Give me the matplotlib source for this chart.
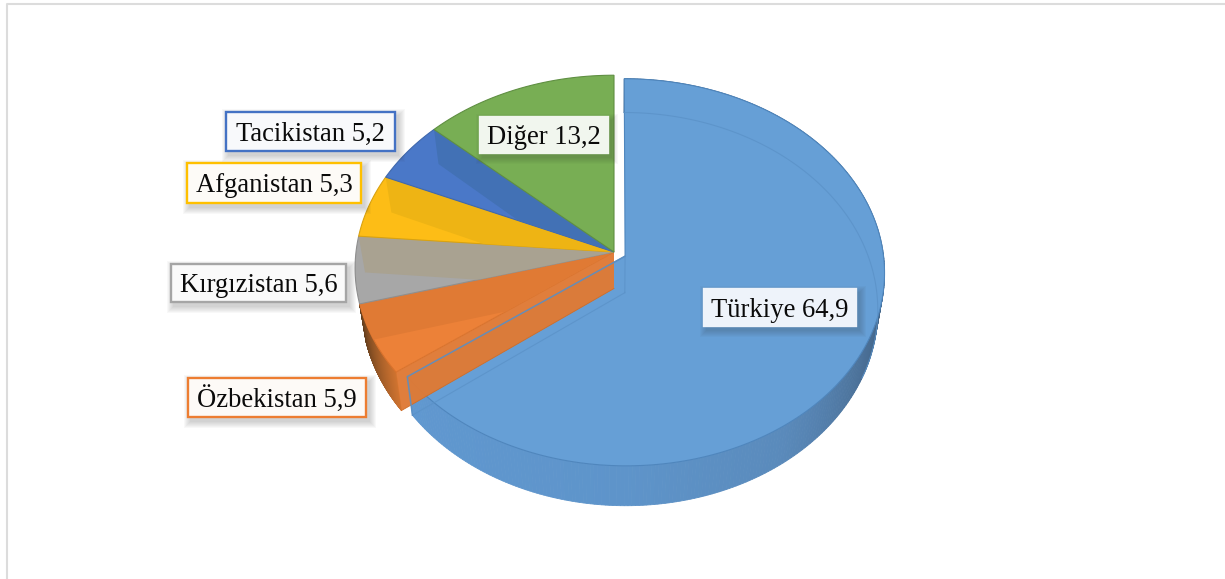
"""Exploded perspective pie: shares by country, drawn with ax.pie and a tilt transform."""
import numpy as np
import matplotlib
matplotlib.use("Agg")
import matplotlib.pyplot as plt
from matplotlib.colors import to_rgb
from matplotlib.patches import Rectangle
from matplotlib.path import Path
from matplotlib.transforms import Affine2D, Transform

plt.rcParams["font.family"] = ["Liberation Serif", "DejaVu Serif"]

countries = ["Türkiye", "Özbekistan", "Kırgızistan", "Afganistan", "Tacikistan", "Diğer"]
values = [64.9, 5.9, 5.6, 5.3, 5.2, 13.2]
explode = [0.048, 0, 0, 0, 0, 0]
top_colors = ["#669fd6", "#ec8138", "#a7a7a7", "#fdbd16", "#4a78c8", "#78ae54"]
wall_colors = ["#5f97cf", "#e07a34", "#a9a291", "#eeb414", "#4271b5", "#78ae54"]
edge_colors = ["#4f86bd", "#d9722c", "#8f8f8f", "#d9a210", "#3f68ad", "#5f8f42"]

# label boxes in pixels: x0, x1, y0, y1, edge, face
boxes = [(704, 856, 289, 326, None, "#eef3fa"),
         (188, 366, 378, 417, "#ed7d31", "#fdfaf7"),
         (171, 346, 264, 302, "#a5a5a5", "#fafafa"),
         (187, 361, 163, 203, "#ffc000", "#fdfbf7"),
         (226, 395, 112, 151, "#4472c4", "#f8f9fb"),
         (480, 608, 117, 153, None, "#f1f6ee")]

CX, CY = 614.0, 252.0   # pie centre in pixels
RX, RY = 258.0, 191.5
PERSP = 0.0833
DEPTH = 36.5
TAPER = 0.025


def project(x, y, z=0.0):
    """Pie coordinates (plus depth 0..1) to pixels, with some perspective."""
    x, y = np.asarray(x, float), np.asarray(y, float)
    w = 1 + PERSP * y
    px = CX + RX * x / w * (1 - TAPER * z)
    py = CY - RY * y / w + DEPTH * z / w
    return px, py


class Tilt(Transform):
    input_dims = output_dims = 2
    is_separable = False
    has_inverse = False

    def transform_non_affine(self, values):
        values = np.asarray(values, float)
        return np.column_stack(project(values[:, 0], values[:, 1]))

    def transform_path_non_affine(self, path):
        # flatten at a large scale, the arcs would come out coarse otherwise
        big_path = path.transformed(Affine2D().scale(2000))
        poly = big_path.to_polygons(closed_only=True)[0] / 2000
        return Path(self.transform_non_affine(poly), closed=True)


def side(ax, wedge, stops, colors, zorder):
    """Outer wall of a wedge as thin strips, shaded along the arc (stops in degrees)."""
    deg = np.linspace(wedge.theta1, wedge.theta2, 300)
    th = np.radians(deg)
    ox, oy = wedge.center
    x, y = ox + np.cos(th), oy + np.sin(th)
    rgb = np.array([to_rgb(c) for c in colors])
    for i in range(len(th) - 1):
        xs = [x[i], x[i + 1], x[i + 1], x[i]]
        ys = [y[i], y[i + 1], y[i + 1], y[i]]
        px, py = project(xs, ys, np.array([0, 0, 1, 1]))
        col = [np.interp(deg[i], stops, rgb[:, k]) for k in range(3)]
        ax.fill(px, py, color=col, lw=0.6, zorder=zorder)


def cut_wall(wedge, angle):
    """Straight wall of a wedge along one of its radial edges, in pixels."""
    ox, oy = wedge.center
    t = np.radians(angle)
    xs = [ox, ox + np.cos(t), ox + np.cos(t), ox]
    ys = [oy, oy + np.sin(t), oy + np.sin(t), oy]
    return project(xs, ys, np.array([0, 0, 1, 1]))


fig = plt.figure(figsize=(12.25, 5.79), dpi=100)
ax = fig.add_axes([0, 0, 1, 1])
wedges, _ = ax.pie(values, explode=explode, startangle=90, counterclock=False,
                   colors=top_colors, normalize=True)
ax.set_aspect("auto")
ax.set_xlim(0, 1225)
ax.set_ylim(579, 0)
ax.axis("off")

tilt = Tilt() + ax.transData
for w, ec in zip(wedges, edge_colors):
    w.set_transform(tilt)
    w.set_edgecolor(ec)
    w.set_linewidth(0.8)

# page frame, cut off at the right and bottom of the crop
ax.plot([6.8, 6.8, 1225], [579, 3.8, 3.8], color="#dcdcdc", lw=1.5, zorder=0)

big, orange = wedges[0], wedges[1]
big.set_zorder(3)
side(ax, big, [-144, -90, -55, -25, 0], ["#6098d0", "#5e94ca", "#5a8abb", "#4a6f96", "#3f5f80"], 2)
orange.set_zorder(6)

# faint lower rim and back corner seen through the blue top
th = np.linspace(big.theta1, big.theta2, 200)
rx, ry = project(big.center[0] + np.cos(np.radians(th)), big.center[1] + np.sin(np.radians(th)), 1.0)
ax.plot(rx[th > -25], ry[th > -25], color="#5b92c8", lw=0.8, alpha=0.8, zorder=3.1)
bx, by = cut_wall(big, big.theta1)
ax.plot([bx[0], bx[3]], [by[0], by[3]], color="#5b92c8", lw=0.8, alpha=0.8, zorder=3.1)
ax.plot([bx[2], bx[3]], [by[2], by[3]], color="#5b92c8", lw=0.8, alpha=0.8, zorder=3.1)

# orange wedge: outer wall and its cut wall lie over the blue top
side(ax, orange, [orange.theta1, orange.theta2], ["#5f3c1c", "#cf7330"], 4)
wx, wy = cut_wall(orange, orange.theta2)
ax.fill(wx, wy, color="#df7a35", lw=0, alpha=0.97, zorder=5)
ax.plot(wx[2:], wy[2:], color="#cf6d28", lw=0.6, zorder=5.1)

# blue outline over the orange wall
ax.plot(bx[:3], by[:3], color="#5a8fc4", lw=1.1, alpha=0.9, zorder=7)

# darker walls seen through the small wedges, kept inside each wedge
for i, w in enumerate(wedges[1:5], start=1):
    w.set_zorder(6 + i * 0.1)
    wx, wy = cut_wall(w, w.theta1)
    shade = ax.fill(wx, wy, color=wall_colors[i], lw=0, zorder=6.05 + i * 0.1)[0]
    shade.set_clip_path(w)
wedges[5].set_zorder(6.6)

# labels with soft shadows
for name, val, (x0, x1, y0, y1, edge, face) in zip(countries, values, boxes):
    for grow in range(7, 0, -1):
        ax.add_patch(Rectangle((x0 + 3 - grow, y0 + 4 - grow), x1 - x0 + 2 * grow, y1 - y0 + 2 * grow,
                               color="#303030", alpha=0.03, lw=0, zorder=8))
    ax.add_patch(Rectangle((x0, y0), x1 - x0, y1 - y0, facecolor=face,
                           edgecolor=edge if edge else face, lw=1.7, zorder=9))
    ax.text((x0 + x1) / 2, (y0 + y1) / 2 + 9.5, f"{name} {str(val).replace('.', ',')}",
            ha="center", va="baseline", fontsize=19.2, color="#0a0a0a", zorder=10)

fig.savefig("out.png", dpi=100)
